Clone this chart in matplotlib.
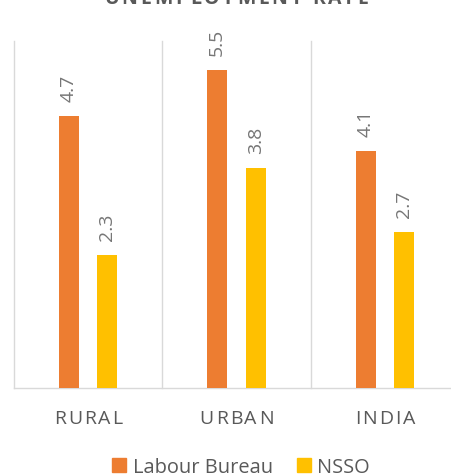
import matplotlib
matplotlib.use("Agg")
import matplotlib.pyplot as plt
from matplotlib.font_manager import FontProperties
from matplotlib.patches import Patch

# Unemployment rate (%) by area, two survey sources
categories = ["RURAL", "URBAN", "INDIA"]
labour_bureau = [4.7, 5.5, 4.1]
nsso = [2.3, 3.8, 2.7]
series_names = ["Labour Bureau", "NSSO"]
title = "UNEMPLOYMENT RATE"

ORANGE = "#ED7D31"
GOLD = "#FFC000"
GRID = "#D9D9D9"
TEXT = "#595959"
LABEL = "#767676"

W, H = 452, 477
fig = plt.figure(figsize=(W / 100, H / 100), dpi=100)
ax = fig.add_axes([14 / W, 88 / H, 445 / W, 347 / H])

x = list(range(len(categories)))
bw, off = 0.135, 0.13
b1 = ax.bar([i - off for i in x], labour_bureau, width=bw, color=ORANGE, zorder=3)
b2 = ax.bar([i + off for i in x], nsso, width=bw, color=GOLD, zorder=3)

ax.set_xlim(-0.5, len(categories) - 0.5)
ax.set_ylim(0, 6)
for s in ("top", "left", "right"):
    ax.spines[s].set_visible(False)
ax.spines["bottom"].set_color(GRID)
ax.spines["bottom"].set_linewidth(1.0)
ax.set_xticks([])
ax.set_yticks([])

# category separators
for xb in [i - 0.5 for i in range(len(categories) + 1)]:
    ax.axvline(xb, color=GRID, lw=1.0, zorder=1, clip_on=False)

fp_lbl = FontProperties(family="Open Sans", size=14)
for bars, vals in ((b1, labour_bureau), (b2, nsso)):
    for rect, v in zip(bars, vals):
        ax.annotate(f"{v}", (rect.get_x() + rect.get_width() / 2, v),
                    xytext=(0, 11), textcoords="offset points",
                    rotation=90, ha="center", va="bottom",
                    fontproperties=fp_lbl, color=LABEL)

renderer = fig.canvas.get_renderer()


def text_width(s, fp):
    t = fig.text(0, 0, s, fontproperties=fp)
    w = t.get_window_extent(renderer).width
    t.remove()
    return w


def spaced_text(s, cx, y, fp, spacing, color):
    """Draw letter-spaced text centred at pixel cx with baseline at pixel y."""
    total = text_width(s, fp) + spacing * (len(s) - 1)
    x0 = cx - total / 2
    for i, ch in enumerate(s):
        if ch == " ":
            continue
        left = text_width(s[: i + 1], fp) - text_width(ch, fp)
        fig.text((x0 + left + i * spacing) / W, y / H, ch, fontproperties=fp,
                 color=color, ha="left", va="baseline")


fp_tick = FontProperties(family="Open Sans", size=14)
for i, cat in enumerate(categories):
    cx = ax.transData.transform((i, 0))[0]
    spaced_text(cat, cx, H - 424, fp_tick, 2.0, TEXT)

fp_title = FontProperties(family="Open Sans", size=14, weight="bold")
spaced_text(title, 236, H - 4, fp_title, 2.8, TEXT)

handles = [Patch(color=ORANGE), Patch(color=GOLD)]
fig.legend(handles, series_names, loc="center", bbox_to_anchor=(241 / W, 9 / H),
           ncol=2, frameon=False, prop=FontProperties(family="Open Sans", size=14.4),
           labelcolor=TEXT, handlelength=0.7, handleheight=0.7,
           handletextpad=0.33, columnspacing=1.2, borderpad=0, borderaxespad=0)

fig.savefig("out.png", dpi=100)
